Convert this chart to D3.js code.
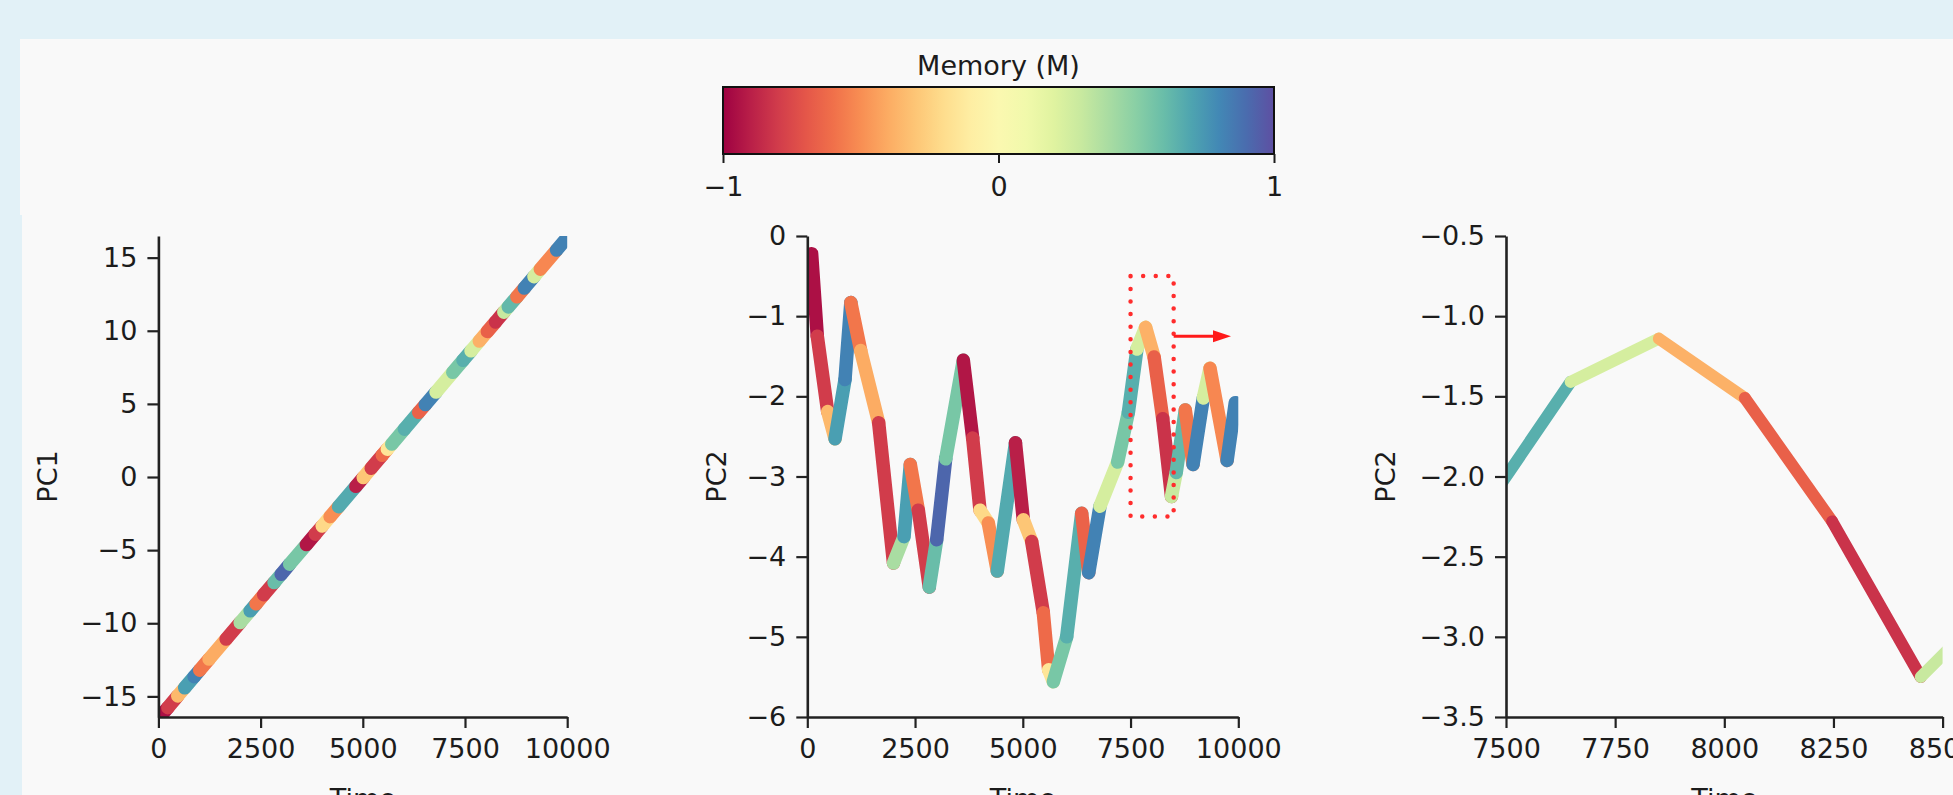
<!DOCTYPE html>
<html lang="en">
  <head>
    <meta charset="UTF-8">
    <title>Memory PCA</title>
    <script src="https://d3js.org/d3.v7.min.js"></script>
    <style>
      body { margin: 0; background: #e2f1f7; }
      svg { display: block; font-family: "DejaVu Sans", sans-serif; }
    </style>
  </head>
  <body>
    <svg id="chart" width="1953" height="795"></svg>
    <script>
    // time at each vertex of the trajectory
    var times = [100, 232, 473, 643, 875, 1010, 1239, 1656, 2000, 2244, 2390, 2576, 2830, 3002, 3211,
                 3620, 3837, 4007, 4200, 4408, 4830, 5012, 5206, 5476, 5600, 5708, 6018, 6366, 6530,
                 6791, 7200, 7450, 7648, 7850, 8047, 8247, 8450, 8560, 8770, 8950, 9188, 9343, 9740, 9930];
    var pc1 = [-16.2, -15.77, -14.97, -14.41, -13.65, -13.21, -12.45, -11.08, -9.95, -9.15, -8.67, -8.05,
               -7.22, -6.65, -5.96, -4.62, -3.91, -3.35, -2.71, -2.03, -0.64, -0.04, 0.6, 1.49, 1.9, 2.25,
               3.27, 4.42, 4.95, 5.81, 7.16, 7.98, 8.63, 9.3, 9.95, 10.6, 11.27, 11.63, 12.32, 12.92, 13.7,
               14.21, 15.52, 16.14];
    var pc2 = [-0.22, -1.25, -2.19, -2.53, -1.79, -0.83, -1.43, -2.33, -4.08, -3.75, -2.85, -3.42, -4.38,
               -3.79, -2.78, -1.55, -2.52, -3.42, -3.58, -4.18, -2.58, -3.54, -3.81, -4.70, -5.41, -5.56,
               -5.0, -3.46, -4.2, -3.37, -2.82, -2.2, -1.41, -1.14, -1.51, -2.28, -3.25, -2.95, -2.17,
               -2.85, -2.02, -1.65, -2.8, -2.08];
    // memory value of each segment (between vertex i and i+1)
    var memory = [-0.95, -0.8, -0.35, 0.72, 0.82, -0.58, -0.4, -0.8, 0.4, 0.72, -0.58, -0.8, 0.6, 0.92,
                  0.55, -0.93, -0.8, -0.22, -0.5, 0.68, -0.9, -0.3, -0.8, -0.62, -0.15, 0.55, 0.66, -0.65,
                  0.82, 0.25, 0.55, 0.66, 0.25, -0.38, -0.66, -0.83, 0.3, 0.62, -0.58, 0.82, 0.25, -0.52, 0.82];

    var timeTicks = [0, 2500, 5000, 7500, 10000];
    var zoomTimeTicks = [7500, 7750, 8000, 8250, 8500];
    var pc1Ticks = [-15, -10, -5, 0, 5, 10, 15];
    var pc2Ticks = [-6, -5, -4, -3, -2, -1, 0];
    var zoomPc2Ticks = [-3.5, -3.0, -2.5, -2.0, -1.5, -1.0, -0.5];
    var memoryTicks = [-1, 0, 1];

    // zoom window shown in the right panel and the arrow pointing at it
    var zoomBox = {t0: 7500, t1: 8500, v0: -3.5, v1: -0.5};
    var arrow = {t0: 8500, t1: 9830, v: -1.25};

    var svg = d3.select("#chart");
    var fontSize = 27;
    var ink = "#1c1c1c";

    // light panel behind the figure
    svg.append("rect").attr("x", 20).attr("y", 39).attr("width", 1933).attr("height", 176).attr("fill", "#f9f9f9");
    svg.append("rect").attr("x", 22).attr("y", 213).attr("width", 1931).attr("height", 582).attr("fill", "#f9f9f9");

    var color = function(m) { return d3.interpolateSpectral((m + 1) / 2); };

    // colour bar
    var cb = {x0: 723, x1: 1274, y0: 87, y1: 154};
    var grad = svg.append("defs").append("linearGradient").attr("id", "spectral");
    d3.range(0, 1.0001, 0.05).forEach(function(s) {
      grad.append("stop").attr("offset", s).attr("stop-color", d3.interpolateSpectral(s));
    });
    svg.append("rect")
      .attr("x", cb.x0).attr("y", cb.y0)
      .attr("width", cb.x1 - cb.x0).attr("height", cb.y1 - cb.y0)
      .attr("fill", "url(#spectral)")
      .attr("stroke", "#111").attr("stroke-width", 2);
    var cbScale = d3.scaleLinear().domain([-1, 1]).range([cb.x0, cb.x1]);
    var cbAxis = svg.append("g")
      .attr("transform", "translate(0," + cb.y1 + ")")
      .call(d3.axisBottom(cbScale).tickValues(memoryTicks).tickSize(9).tickPadding(14).tickFormat(d3.format("d")));
    cbAxis.select(".domain").remove();
    cbAxis.selectAll("line").attr("stroke", ink).attr("stroke-width", 2);
    cbAxis.selectAll("text").attr("font-size", fontSize).attr("font-family", "DejaVu Sans").attr("fill", ink);
    svg.append("text")
      .attr("x", (cb.x0 + cb.x1) / 2).attr("y", 75)
      .attr("text-anchor", "middle").attr("font-size", fontSize).attr("fill", ink)
      .text("Memory (M)");

    var panels = [
      {id: "p1", x0: 158.4, x1: 567.2, y0: 236, y1: 717, xDomain: [0, 10000], yDomain: [-16.41, 16.48],
       xTicks: timeTicks, yTicks: pc1Ticks, yFmt: d3.format("d"), label: "PC1", labelX: 57, values: pc1, width: 13.5},
      {id: "p2", x0: 807.3, x1: 1238.3, y0: 236, y1: 717, xDomain: [0, 10000], yDomain: [-6, 0],
       xTicks: timeTicks, yTicks: pc2Ticks, yFmt: d3.format("d"), label: "PC2", labelX: 726, values: pc2, width: 13.5},
      {id: "p3", x0: 1506, x1: 1942.6, y0: 236, y1: 717, xDomain: [7500, 8500], yDomain: [-3.5, -0.5],
       xTicks: zoomTimeTicks, yTicks: zoomPc2Ticks, yFmt: d3.format(".1f"), label: "PC2", labelX: 1395, values: pc2, width: 12}
    ];

    panels.forEach(function(p) {
      var x = d3.scaleLinear().domain(p.xDomain).range([p.x0, p.x1]);
      var y = d3.scaleLinear().domain(p.yDomain).range([p.y1, p.y0]);

      svg.append("clipPath").attr("id", "clip-" + p.id)
        .append("rect").attr("x", p.x0).attr("y", p.y0)
        .attr("width", p.x1 - p.x0).attr("height", p.y1 - p.y0);

      var segs = d3.range(times.length - 1).map(function(i) {
        return {t0: times[i], v0: p.values[i], t1: times[i + 1], v1: p.values[i + 1], m: memory[i]};
      });

      svg.append("g").attr("clip-path", "url(#clip-" + p.id + ")")
        .selectAll("line").data(segs).enter().append("line")
          .attr("x1", function(d) { return x(d.t0); })
          .attr("y1", function(d) { return y(d.v0); })
          .attr("x2", function(d) { return x(d.t1); })
          .attr("y2", function(d) { return y(d.v1); })
          .attr("stroke", function(d) { return color(d.m); })
          .attr("stroke-width", p.width)
          .attr("stroke-linecap", "round");

      if (p.id === "p2") {
        svg.append("rect")
          .attr("x", x(zoomBox.t0)).attr("y", y(zoomBox.v1))
          .attr("width", x(zoomBox.t1) - x(zoomBox.t0))
          .attr("height", y(zoomBox.v0) - y(zoomBox.v1))
          .attr("fill", "none").attr("stroke", "#ff2d2d")
          .attr("stroke-width", 4.5).attr("stroke-dasharray", "0 12.6")
          .attr("stroke-linecap", "round").attr("stroke-linejoin", "round");
        var ay = y(arrow.v), ax1 = x(arrow.t1);
        svg.append("line")
          .attr("x1", x(arrow.t0)).attr("y1", ay).attr("x2", ax1 - 12).attr("y2", ay)
          .attr("stroke", "#ff1a1a").attr("stroke-width", 3);
        svg.append("path")
          .attr("d", "M" + (ax1 - 18) + "," + (ay - 6) + "L" + ax1 + "," + ay + "L" + (ax1 - 18) + "," + (ay + 6) + "Z")
          .attr("fill", "#ff1a1a");
      }

      var gx = svg.append("g")
        .attr("transform", "translate(0," + p.y1 + ")")
        .call(d3.axisBottom(x).tickValues(p.xTicks).tickFormat(d3.format("d")).tickSize(11).tickSizeOuter(0).tickPadding(11));
      var gy = svg.append("g")
        .attr("transform", "translate(" + p.x0 + ",0)")
        .call(d3.axisLeft(y).tickValues(p.yTicks).tickFormat(p.yFmt).tickSize(11).tickSizeOuter(0).tickPadding(10));
      [gx, gy].forEach(function(g) {
        g.select(".domain").attr("stroke", "#222").attr("stroke-width", 2.6);
        g.selectAll(".tick line").attr("stroke", "#222").attr("stroke-width", 2.2);
        g.selectAll("text").attr("font-size", fontSize).attr("font-family", "DejaVu Sans").attr("fill", ink);
      });

      // axis titles; "Time" sits at the lower edge and is cut there, as in the source figure
      svg.append("text")
        .attr("x", (p.x0 + p.x1) / 2).attr("y", 808)
        .attr("text-anchor", "middle").attr("font-size", fontSize).attr("fill", ink)
        .text("Time");
      svg.append("text")
        .attr("transform", "translate(" + p.labelX + "," + ((p.y0 + p.y1) / 2) + ") rotate(-90)")
        .attr("text-anchor", "middle").attr("font-size", fontSize).attr("fill", ink)
        .text(p.label);
    });
    </script>
  </body>
</html>
